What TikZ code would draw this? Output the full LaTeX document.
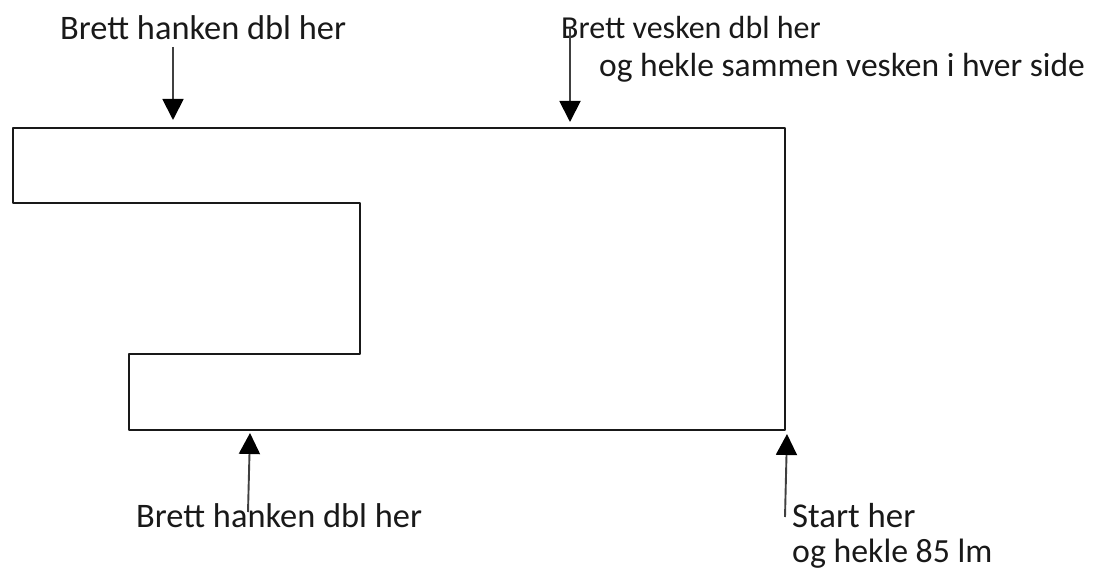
\documentclass[tikz,border=0pt]{standalone}
\usepackage{fontspec}
\setmainfont{Carlito}
\usetikzlibrary{arrows.meta}
\tikzset{
  lbl/.style={inner sep=0pt,anchor=base west,text=black!90},
  fa/.style={font=\fontsize{34.4}{36}\selectfont},
  fb/.style={font=\fontsize{32}{36}\selectfont},
  fc/.style={font=\fontsize{33.5}{36}\selectfont},
  fd/.style={font=\fontsize{34.8}{36}\selectfont},
  fe/.style={font=\fontsize{33.8}{36}\selectfont},
  arrowline/.style={draw=black!75,line width=1.9pt,-{Triangle[length=21pt,width=21pt,color=black]}},
  shapeline/.style={draw=black!90,line width=2.9pt,line join=round}
}
\begin{document}
\begin{tikzpicture}[x=1pt,y=-1pt]
\useasboundingbox (0,0) rectangle (1101,569);
\draw[shapeline] (13,128) -- (785,128) -- (785,430) -- (129,430) -- (129,354) -- (360,354) -- (360,203) -- (13,203) -- cycle;
\node[lbl,fa] (t1) at (60,40) {Brett hanken dbl her};
\node[lbl,fb] (t2) at (561,38.5) {Brett vesken dbl her};
\node[lbl,fc] (t3) at (599,77) {og hekle sammen vesken i hver side};
\node[lbl,fa] (t4) at (136,527) {Brett hanken dbl her};
\node[lbl,fd] (t5) at (792,527) {Start her};
\node[lbl,fe] (t6) at (792,562.5) {og hekle 85 lm};
\coordinate (a1s) at (173,47); \coordinate (a1e) at (173,120);
\coordinate (a2s) at (570,28); \coordinate (a2e) at (570,122);
\coordinate (a3s) at (248,512); \coordinate (a3e) at (250,433);
\coordinate (a4s) at (785,517); \coordinate (a4e) at (787,434);
\draw[arrowline] (a1s) -- (a1e);
\draw[arrowline] (a2s) -- (a2e);
\draw[arrowline] (a3s) -- (a3e);
\draw[arrowline] (a4s) -- (a4e);
\end{tikzpicture}
\end{document}
